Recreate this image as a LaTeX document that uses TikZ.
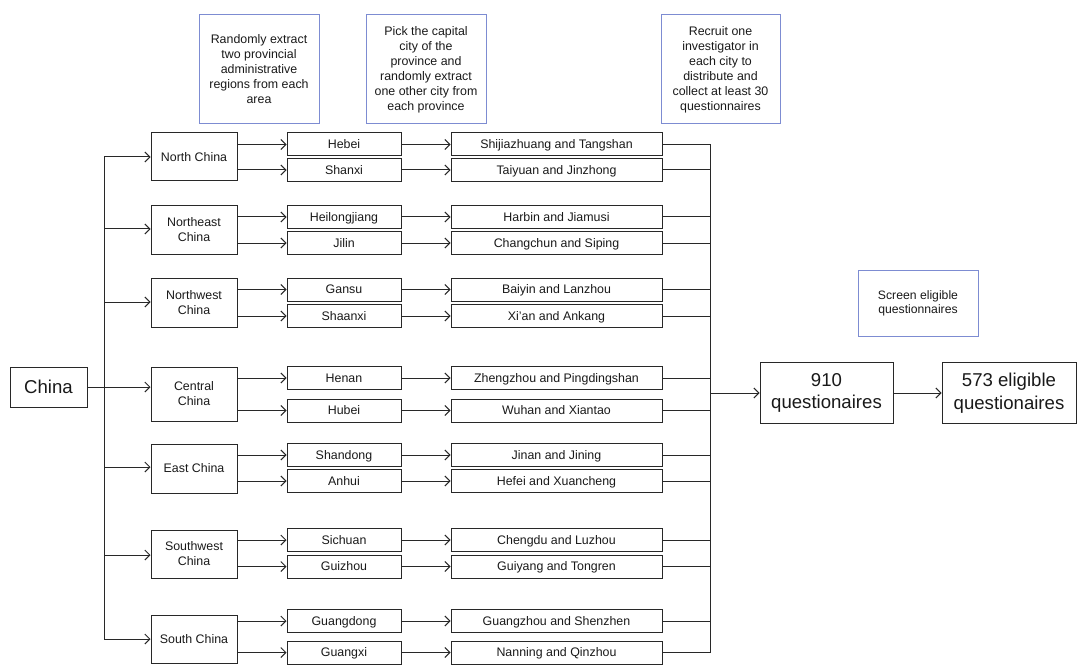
\documentclass[tikz,border=0pt]{standalone}
\usepackage{fontspec}
\setmainfont{Liberation Sans}
\usetikzlibrary{arrows.meta}
\definecolor{notecol}{RGB}{125,140,210}
\definecolor{linecol}{RGB}{40,40,40}
\tikzset{
  box/.style={draw=linecol, line width=1pt, inner sep=0pt, align=center, text=black!90,
    font=\fontsize{12.4}{15}\selectfont},
  regbox/.style={box, minimum width=86pt},
  provbox/.style={box, minimum width=114pt, minimum height=23pt, text height=8.9pt, text depth=0pt},
  citybox/.style={box, minimum width=211pt, minimum height=23pt, text height=8.9pt, text depth=0pt},
  bigbox/.style={box, font=\fontsize{18.6}{22.7}\selectfont},
  notebox/.style={box, draw=notecol, minimum width=120pt},
  conn/.style={draw=linecol, line width=1pt},
  arr/.style={conn, -{Straight Barb[length=5pt,width=10pt]}}
}
\begin{document}
\begin{tikzpicture}[x=1pt,y=-1pt]
\useasboundingbox (0,0) rectangle (1084,671);

% notes
\node[notebox, minimum height=109pt] (n1) at (259,69.5) {Randomly extract\\two provincial\\administrative\\regions from each\\area};
\node[notebox, minimum height=109pt] (n2) at (426,69.5) {Pick the capital\\city of the\\province and\\randomly extract\\one other city from\\each province};
\node[notebox, minimum height=109pt, minimum width=119pt] (n3) at (720.5,69.5) {Recruit one\\investigator in\\each city to\\distribute and\\collect at least 30\\questionnaires};
\node[notebox, minimum height=66pt, font=\fontsize{12.2}{14}\selectfont] (n4) at (918,303) {Screen eligible\\questionnaires};

% China
\node[bigbox, minimum width=77pt, minimum height=40pt] (china) at (48.5,387) {China};

% regions
\node[regbox, minimum height=48pt] (north) at (194,157) {North China};
\node[regbox, minimum height=48pt] (northeast) at (194,230) {Northeast\\China};
\node[regbox, minimum height=49pt] (northwest) at (194,302.5) {Northwest\\China};
\node[regbox, minimum height=54pt] (central) at (194,394) {Central\\China};
\node[regbox, minimum height=49pt] (east) at (194,468.5) {East China};
\node[regbox, minimum height=48pt] (southwest) at (194,554) {Southwest\\China};
\node[regbox, minimum height=48pt] (south) at (194,639) {South China};

% provinces
\node[provbox] (hebei) at (344,144.5) {Hebei};
\node[provbox] (shanxi) at (344,170) {Shanxi};
\node[provbox] (heilongjiang) at (344,217) {Heilongjiang};
\node[provbox] (jilin) at (344,243) {Jilin};
\node[provbox] (gansu) at (344,289.5) {Gansu};
\node[provbox] (shaanxi) at (344,316) {Shaanxi};
\node[provbox] (henan) at (344,378) {Henan};
\node[provbox] (hubei) at (344,410.5) {Hubei};
\node[provbox] (shandong) at (344,455) {Shandong};
\node[provbox] (anhui) at (344,481) {Anhui};
\node[provbox] (sichuan) at (344,540) {Sichuan};
\node[provbox] (guizhou) at (344,566.5) {Guizhou};
\node[provbox] (guangdong) at (344,621) {Guangdong};
\node[provbox] (guangxi) at (344,652.5) {Guangxi};

% cities
\node[citybox] (c1) at (556.5,144.5) {Shijiazhuang and Tangshan};
\node[citybox] (c2) at (556.5,170) {Taiyuan and Jinzhong};
\node[citybox] (c3) at (556.5,217) {Harbin and Jiamusi};
\node[citybox] (c4) at (556.5,243) {Changchun and Siping};
\node[citybox] (c5) at (556.5,289.5) {Baiyin and Lanzhou};
\node[citybox] (c6) at (556.5,316) {Xi'an and Ankang};
\node[citybox] (c7) at (556.5,378) {Zhengzhou and Pingdingshan};
\node[citybox] (c8) at (556.5,410.5) {Wuhan and Xiantao};
\node[citybox] (c9) at (556.5,455) {Jinan and Jining};
\node[citybox] (c10) at (556.5,481) {Hefei and Xuancheng};
\node[citybox] (c11) at (556.5,540) {Chengdu and Luzhou};
\node[citybox] (c12) at (556.5,566.5) {Guiyang and Tongren};
\node[citybox] (c13) at (556.5,621) {Guangzhou and Shenzhen};
\node[citybox] (c14) at (556.5,652.5) {Nanning and Qinzhou};

% results
\node[bigbox, minimum width=133pt, minimum height=61pt] (q910) at (826.5,393) {910\\questionaires};
\node[bigbox, minimum width=134pt, minimum height=61pt] (q573) at (1009,393) {573 eligible\\questionaires};

% trunk
\coordinate (tN) at (104,157);
\coordinate (tNE) at (104,229);
\coordinate (tNW) at (104,302);
\coordinate (tE) at (104,467);
\coordinate (tSW) at (104,555);
\coordinate (tS) at (104,639);
\draw[conn] (tN) -- (tS);
\draw[arr] (tN) -- (tN -| north.west);
\draw[arr] (tNE) -- (tNE -| northeast.west);
\draw[arr] (tNW) -- (tNW -| northwest.west);
\draw[arr] (china.east) -- (china.east -| central.west);
\draw[arr] (tE) -- (tE -| east.west);
\draw[arr] (tSW) -- (tSW -| southwest.west);
\draw[arr] (tS) -- (tS -| south.west);

% region -> province
\foreach \r/\p in {north/hebei, north/shanxi, northeast/heilongjiang, northeast/jilin,
  northwest/gansu, northwest/shaanxi, central/henan, central/hubei, east/shandong, east/anhui,
  southwest/sichuan, southwest/guizhou, south/guangdong, south/guangxi}
  \draw[arr] (\r.east |- \p.west) -- (\p.west);

% province -> city
\foreach \p/\c in {hebei/c1, shanxi/c2, heilongjiang/c3, jilin/c4, gansu/c5, shaanxi/c6,
  henan/c7, hubei/c8, shandong/c9, anhui/c10, sichuan/c11, guizhou/c12, guangdong/c13, guangxi/c14}
  \draw[arr] (\p.east) -- (\c.west);

% collector
\coordinate (colTop) at (710,144.5);
\coordinate (colBot) at (710,652.5);
\coordinate (colOut) at (710,393);
\draw[conn] (colTop) -- (colBot);
\foreach \c in {c1,c2,c3,c4,c5,c6,c7,c8,c9,c10,c11,c12,c13,c14}
  \draw[conn] (\c.east) -- (\c.east -| colTop);
\draw[arr] (colOut) -- (colOut -| q910.west);
\draw[arr] (q910.east) -- (q573.west);
\end{tikzpicture}
\end{document}
